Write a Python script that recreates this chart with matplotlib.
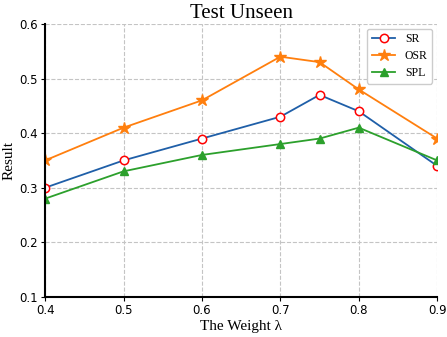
import matplotlib
matplotlib.use("Agg")
import matplotlib.pyplot as plt

weights = [0.4, 0.5, 0.6, 0.7, 0.75, 0.8, 0.9]
sr = [0.30, 0.35, 0.39, 0.43, 0.47, 0.44, 0.34]
osr = [0.35, 0.41, 0.46, 0.54, 0.53, 0.48, 0.39]
spl = [0.28, 0.33, 0.36, 0.38, 0.39, 0.41, 0.35]

serif = 'Liberation Serif'

fig = plt.figure(figsize=(4.47, 3.37), dpi=100)
ax = fig.add_axes([0.101, 0.119, 0.877, 0.81])

ax.plot(weights, sr, color='#1f5fa8', marker='o', markersize=6,
        markerfacecolor='white', markeredgecolor='red', markeredgewidth=1.1,
        linewidth=1.3, label='SR')
ax.plot(weights, osr, color='#ff7f0e', marker='*', markersize=9,
        linewidth=1.3, label='OSR')
ax.plot(weights, spl, color='#2ca02c', marker='^', markersize=6,
        linewidth=1.3, label='SPL')

ax.set_xlim(0.4, 0.9)
ax.set_ylim(0.1, 0.6)
ax.set_xticks([0.4, 0.5, 0.6, 0.7, 0.8, 0.9])
ax.set_yticks([0.1, 0.2, 0.3, 0.4, 0.5, 0.6])
ax.grid(True, linestyle='--', color='#c4c4c4', linewidth=0.8)
ax.spines['top'].set_visible(False)
ax.spines['right'].set_visible(False)
ax.spines['left'].set_linewidth(1.5)
ax.spines['bottom'].set_linewidth(1.5)
ax.tick_params(labelsize=8.5, length=3, pad=2)

ax.set_title('Test Unseen', fontsize=15, family=serif, pad=4)
ax.set_xlabel('The Weight λ', fontsize=11, family=serif, labelpad=2)
ax.set_ylabel('Result', fontsize=11, family=serif, labelpad=3)
ax.legend(loc='upper right', prop={'family': serif, 'size': 8.5},
          framealpha=1.0, edgecolor='#cccccc', labelspacing=0.4,
          borderaxespad=0.4)

fig.savefig('out.png', dpi=100)
